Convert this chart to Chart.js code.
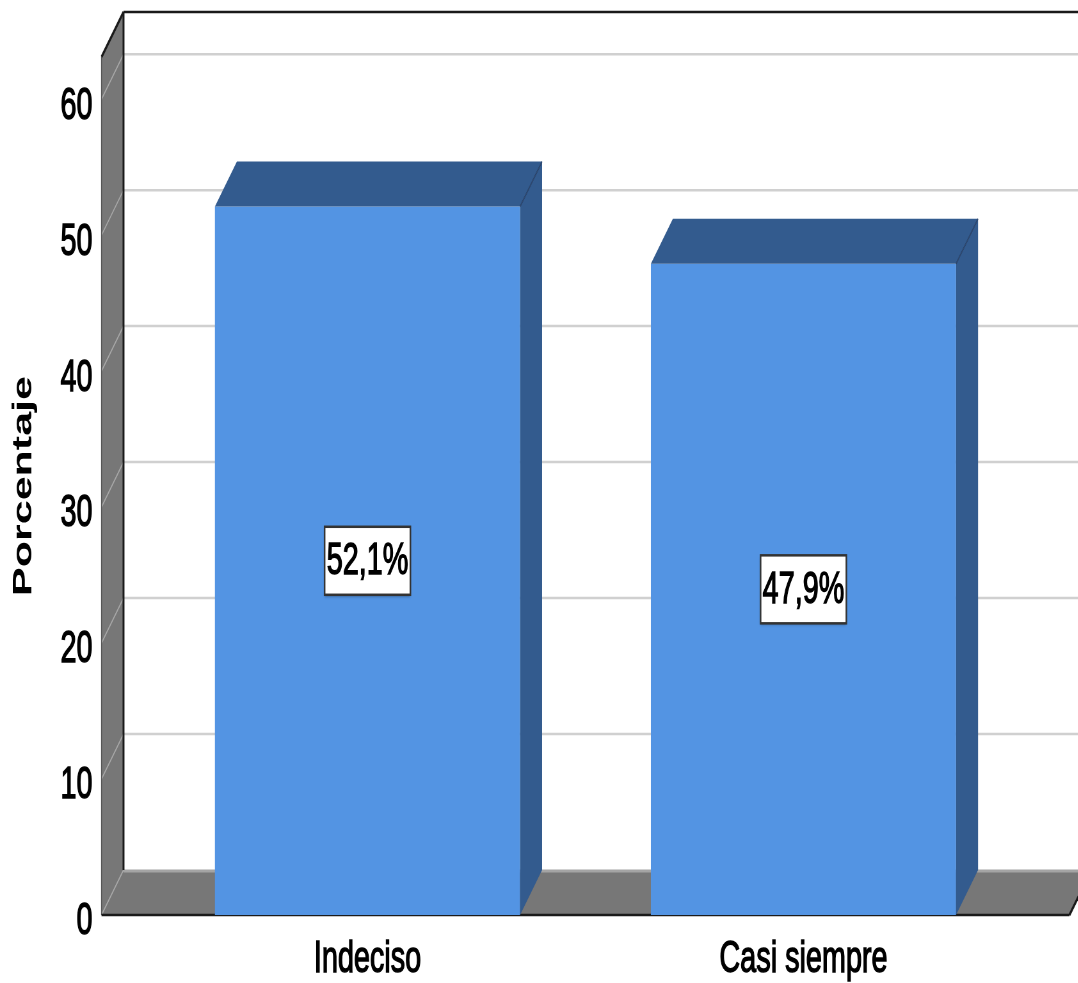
<!DOCTYPE html>
<html>
<head>
<meta charset="utf-8">
<script src="https://cdn.jsdelivr.net/npm/chart.js@4.4.1/dist/chart.umd.min.js"></script>
<style>
  html, body { margin: 0; padding: 0; background: #ffffff; overflow: hidden; }
  #wrap { width: 1684px; height: 983px; transform: scaleX(0.64); transform-origin: 0 0; }
  canvas { display: block; }
</style>
</head>
<body>
<div id="wrap"><canvas id="c" width="1684" height="983"></canvas></div>
<script>
// ---- data ----
const categories = ['Indeciso', 'Casi siempre'];
const percentages = [52.1, 47.9];
const valueLabels = ['52,1%', '47,9%'];
const yTicks = [0, 10, 20, 30, 40, 50, 60];
const yMax = 63.1;
const axisTitle = 'Porcentaje';

// ---- style ----
const FONT = '"Liberation Sans", Arial, sans-serif';
const FRONT = 'rgb(83,148,227)';
const SIDE = 'rgb(51,91,142)';
const WALL = '#777777';
const K = 0.64;           // horizontal compression of the whole picture
const DX = 22 / K;        // depth offset x (logical px)
const DY = -45;           // depth offset y
const EXT = 75;           // wall/floor extension beyond the category area

function poly(ctx, pts, fill) {
  ctx.beginPath();
  ctx.moveTo(pts[0][0], pts[0][1]);
  for (let i = 1; i < pts.length; i++) ctx.lineTo(pts[i][0], pts[i][1]);
  ctx.closePath();
  ctx.fillStyle = fill;
  ctx.fill();
}
function line(ctx, x0, y0, x1, y1, color, w) {
  ctx.beginPath();
  ctx.moveTo(x0, y0);
  ctx.lineTo(x1, y1);
  ctx.strokeStyle = color;
  ctx.lineWidth = w;
  ctx.stroke();
}

const threeD = {
  id: 'threeD',
  beforeDatasetsDraw(chart) {
    const ctx = chart.ctx, a = chart.chartArea, y = chart.scales.y;
    const W = chart.width;
    const wl = a.left - EXT, wr = a.right + EXT;
    const f0 = y.getPixelForValue(0);
    const top = a.top;
    ctx.save();
    // back wall gridlines
    yTicks.forEach(t => {
      if (t === 0) return;
      const yy = y.getPixelForValue(t) + DY;
      line(ctx, wl + DX, yy, W, yy, '#d0d0d0', 2.5);
    });
    // left wall
    poly(ctx, [[wl, top], [wl + DX, top + DY], [wl + DX, f0 + DY], [wl, f0]], WALL);
    yTicks.forEach(t => {
      if (t === 0) return;
      const yy = y.getPixelForValue(t);
      line(ctx, wl, yy, wl + DX, yy + DY, '#a8a8a8', 1.6);
    });
    // floor
    poly(ctx, [[wl, f0], [wr, f0], [wr + DX, f0 + DY], [wl + DX, f0 + DY]], WALL);
    line(ctx, wl + DX, f0 + DY + 1, wr + DX, f0 + DY + 1, '#a4a4a4', 3);
    line(ctx, wl, f0, wl + DX, f0 + DY, '#a8a8a8', 1.6);
    // dark outlines
    line(ctx, wl + DX, top + DY, W, top + DY, '#1a1a1a', 2.5);
    line(ctx, wl + DX, top + DY, wl + DX, f0 + DY, '#1a1a1a', 3);
    line(ctx, wl, top, wl + DX, top + DY, '#1a1a1a', 3);
    line(ctx, wl, top, wl, f0, '#555555', 1.5);
    line(ctx, wl, f0, wr, f0, '#1a1a1a', 2.5);
    line(ctx, wr, f0, wr + DX, f0 + DY, '#1a1a1a', 3);
    ctx.restore();
  },
  afterDatasetsDraw(chart) {
    const ctx = chart.ctx, y = chart.scales.y;
    const meta = chart.getDatasetMeta(0);
    ctx.save();
    meta.data.forEach((bar, i) => {
      const x0 = bar.x - bar.width / 2, x1 = bar.x + bar.width / 2;
      const yt = bar.y, yb = bar.base;
      poly(ctx, [[x0, yt], [x1, yt], [x1 + DX, yt + DY], [x0 + DX, yt + DY]], SIDE);
      poly(ctx, [[x1, yt], [x1 + DX, yt + DY], [x1 + DX, yb + DY], [x1, yb]], SIDE);
      line(ctx, x1, yt, x1 + DX, yt + DY, 'rgba(30,50,85,0.7)', 1.5);
      // value label
      const cy = y.getPixelForValue(percentages[i] / 2);
      const bw = 134, bh = 68;
      ctx.save();
      ctx.shadowColor = 'rgba(0,0,0,0.35)';
      ctx.shadowBlur = 3;
      ctx.shadowOffsetY = 2;
      ctx.fillStyle = '#ffffff';
      ctx.fillRect(bar.x - bw / 2, cy - bh / 2, bw, bh);
      ctx.restore();
      ctx.strokeStyle = '#333333';
      ctx.lineWidth = 2.5;
      ctx.strokeRect(bar.x - bw / 2, cy - bh / 2, bw, bh);
      ctx.font = '45px ' + FONT;
      ctx.textAlign = 'center';
      ctx.textBaseline = 'middle';
      ctx.lineWidth = 1.4;
      ctx.strokeStyle = '#000000';
      ctx.strokeText(valueLabels[i], bar.x, cy + 1);
      ctx.fillStyle = '#000000';
      ctx.fillText(valueLabels[i], bar.x, cy + 1);
    });
    ctx.restore();
  }
};

new Chart(document.getElementById('c'), {
  type: 'bar',
  data: {
    labels: categories,
    datasets: [{
      data: percentages,
      backgroundColor: FRONT,
      borderWidth: 0,
      barPercentage: 0.7,
      categoryPercentage: 1.0
    }]
  },
  options: {
    responsive: false,
    animation: false,
    devicePixelRatio: 1,
    layout: { padding: { top: 57, right: 88, left: 0, bottom: 0 } },
    plugins: { legend: { display: false }, tooltip: { enabled: false } },
    scales: {
      x: {
        grid: { display: false, drawTicks: false },
        border: { display: false },
        ticks: { color: '#000', font: { family: FONT, size: 45 }, padding: 18, maxRotation: 0, autoSkip: false,
                 textStrokeColor: '#000', textStrokeWidth: 1.4 },
        afterFit: s => { s.height = 68; s.paddingLeft = 0; s.paddingRight = 0; }
      },
      y: {
        min: 0,
        max: yMax,
        grid: { display: false, drawTicks: false },
        border: { display: false },
        ticks: { stepSize: 10, includeBounds: false, color: '#000', font: { family: FONT, size: 45 }, padding: 89, labelOffset: 7,
                 textStrokeColor: '#000', textStrokeWidth: 1.4 },
        title: { display: true, text: axisTitle, color: '#000', font: { family: FONT, size: 43, weight: 'bold' }, padding: { top: 11, bottom: 0 } },
        afterFit: s => { s.width = 233.6; s.paddingTop = 0; s.paddingBottom = 0; }
      }
    }
  },
  plugins: [threeD]
});
</script>
</body>
</html>
